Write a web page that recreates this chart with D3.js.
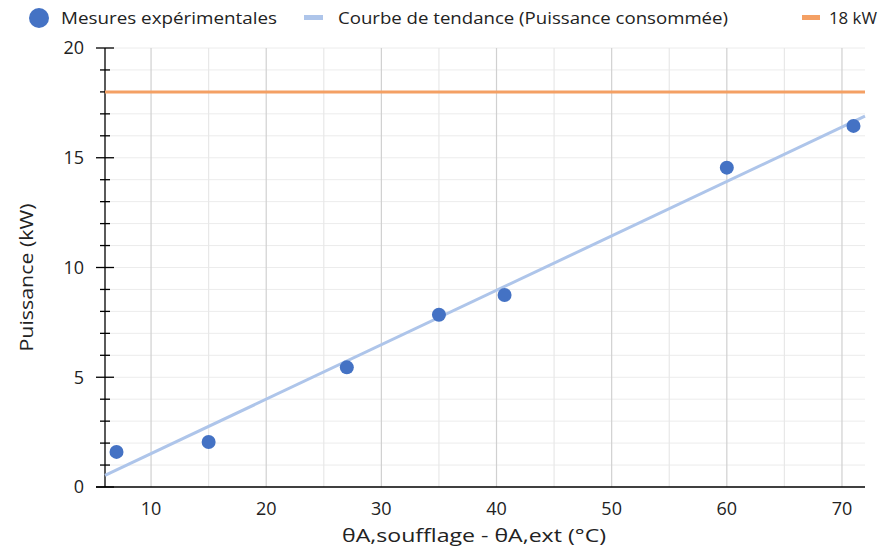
<!DOCTYPE html>
<html><head><meta charset="utf-8">
<script src="https://cdn.jsdelivr.net/npm/d3@7"></script>
<style>body{margin:0;background:#fff;} svg{display:block;font-family:"Open Sans", "Noto Sans", sans-serif;}</style>
</head><body>
<svg id="c" width="880" height="554"></svg>
<script>
const deltaT = [7, 15, 27, 35, 40.7, 60, 71];
const puissance = [1.6, 2.05, 5.45, 7.85, 8.75, 14.55, 16.45];
const seuil = 18;
const xTicks = [10, 20, 30, 40, 50, 60, 70];
const yTicks = [0, 5, 10, 15, 20];
const legendLabels = ["Mesures expérimentales", "Courbe de tendance (Puissance consommée)", "18 kW"];

const svg = d3.select("#c");
const L = 105, R = 865, T = 48, B = 487;
const x = d3.scaleLinear().domain([6, 72]).range([L, R]);
const y = d3.scaleLinear().domain([0, 20]).range([B, T]);

// grid
const g = svg.append("g");
g.selectAll(".hg").data(d3.range(1, 21)).enter().append("line")
  .attr("x1", L).attr("x2", R).attr("y1", d => y(d)).attr("y2", d => y(d))
  .attr("stroke", "#ececec").attr("stroke-width", 1);
g.selectAll(".vg").data(d3.range(10, 71, 5)).enter().append("line")
  .attr("y1", T).attr("y2", B).attr("x1", d => x(d)).attr("x2", d => x(d))
  .attr("stroke", d => d % 10 === 0 ? "#d0d0d0" : "#e8e8e8").attr("stroke-width", 1.2);

// axes
svg.append("line").attr("x1", L).attr("x2", L).attr("y1", T).attr("y2", B).attr("stroke", "#000").attr("stroke-width", 1.3);
svg.append("line").attr("x1", L - 9).attr("x2", R).attr("y1", B).attr("y2", B).attr("stroke", "#000").attr("stroke-width", 1.3);
svg.selectAll(".mt").data(d3.range(0, 21)).enter().append("line")
  .attr("x1", d => d % 5 === 0 ? L - 9 : L - 5).attr("x2", d => d % 5 === 0 ? L + 9 : L + 5)
  .attr("y1", d => y(d)).attr("y2", d => y(d)).attr("stroke", "#000").attr("stroke-width", 1.3);

svg.selectAll(".yl").data(yTicks).enter().append("text")
  .attr("x", L - 21).attr("y", d => y(d)).attr("dy", "0.36em").attr("text-anchor", "end")
  .attr("font-size", 18).attr("fill", "#222").text(d => d);
svg.selectAll(".xl").data(xTicks).enter().append("text")
  .attr("x", d => x(d)).attr("y", 515).attr("text-anchor", "middle")
  .attr("font-size", 18).attr("fill", "#222").text(d => d);

svg.append("text").attr("transform", `translate(33,${(T + B) / 2 + 10}) rotate(-90)`)
  .attr("text-anchor", "middle").attr("font-size", 19).attr("fill", "#222")
  .attr("textLength", 148).attr("lengthAdjust", "spacingAndGlyphs").text("Puissance (kW)");
svg.append("text").attr("x", 474).attr("y", 542).attr("text-anchor", "middle")
  .attr("font-size", 19).attr("fill", "#222")
  .attr("textLength", 264).attr("lengthAdjust", "spacingAndGlyphs").text("θA,soufflage - θA,ext (°C)");

// threshold
svg.append("line").attr("x1", L).attr("x2", R).attr("y1", y(seuil)).attr("y2", y(seuil))
  .attr("stroke", "#f4a064").attr("stroke-width", 3);

// trend line (least squares)
const mx = d3.mean(deltaT), my = d3.mean(puissance);
const slope = d3.sum(deltaT, (d, i) => (d - mx) * (puissance[i] - my)) / d3.sum(deltaT, d => (d - mx) ** 2);
const icpt = my - slope * mx;
const dom = x.domain();
svg.append("line").attr("x1", x(dom[0])).attr("y1", y(icpt + slope * dom[0]))
  .attr("x2", x(dom[1])).attr("y2", y(icpt + slope * dom[1]))
  .attr("stroke", "#aec5ea").attr("stroke-width", 3);

// points
svg.selectAll(".pt").data(deltaT).enter().append("circle")
  .attr("cx", d => x(d)).attr("cy", (d, i) => y(puissance[i])).attr("r", 7)
  .attr("fill", "#4472c4");

// legend
const lg = svg.append("g").attr("font-size", 16).attr("fill", "#222");
lg.append("circle").attr("cx", 39).attr("cy", 18).attr("r", 10).attr("fill", "#4472c4");
lg.append("text").attr("x", 61).attr("y", 18).attr("dy", "0.35em")
  .attr("textLength", 216).attr("lengthAdjust", "spacingAndGlyphs").text(legendLabels[0]);
lg.append("rect").attr("x", 304).attr("y", 15).attr("width", 19).attr("height", 5).attr("fill", "#aec5ea");
lg.append("text").attr("x", 338).attr("y", 18).attr("dy", "0.35em")
  .attr("textLength", 390).attr("lengthAdjust", "spacingAndGlyphs").text(legendLabels[1]);
lg.append("rect").attr("x", 802).attr("y", 15).attr("width", 18).attr("height", 5).attr("fill", "#f4a064");
lg.append("text").attr("x", 829).attr("y", 18).attr("dy", "0.35em")
  .attr("textLength", 48).attr("lengthAdjust", "spacingAndGlyphs").text(legendLabels[2]);
</script>
</body></html>
